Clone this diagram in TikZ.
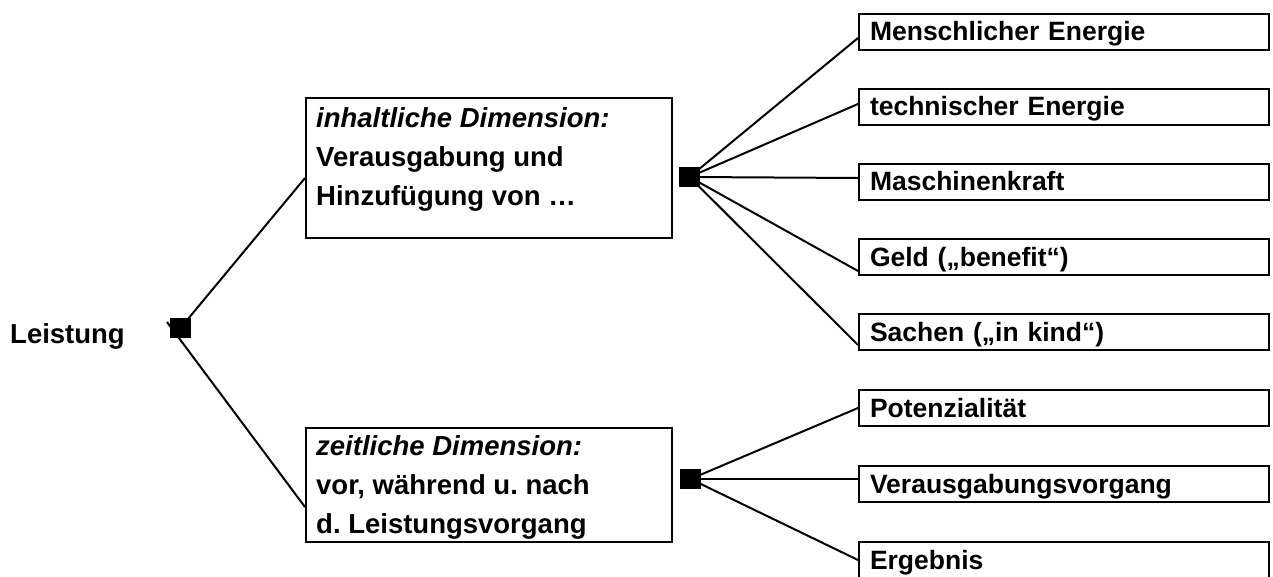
\documentclass[tikz,border=0pt]{standalone}
\usepackage{fontspec}
\setmainfont{Liberation Sans}
\frenchspacing
\begin{document}
\begin{tikzpicture}[x=1pt,y=-1pt,
  txt/.style={font=\bfseries\fontsize{26.5}{39}\selectfont},
  mtxt/.style={font=\bfseries\fontsize{27.5}{39}\selectfont,align=left,inner sep=0pt,anchor=base west},
  rbox/.style={txt,draw,line width=2pt,anchor=north west,minimum width=410pt,minimum height=36pt,
    text width=388pt,align=left,inner xsep=11pt,inner ysep=0pt,text height=21pt,text depth=3pt},
  mbox/.style={draw,line width=2pt,anchor=north west,minimum width=366pt,inner sep=0pt},
  knot/.style={fill=black,inner sep=0pt,minimum size=20pt},
  conn/.style={line width=2pt}]
\useasboundingbox (0,0) rectangle (1273,577);

% right boxes
\node[rbox] (r1) at (858,13) {Menschlicher Energie};
\node[rbox] (r2) at (858,88) {technischer Energie};
\node[rbox] (r3) at (858,163) {Maschinenkraft};
\node[rbox] (r4) at (858,238) {Geld (\char"201E benefit\char"201C)};
\node[rbox] (r5) at (858,313) {Sachen (\char"201E in kind\char"201C)};
\node[rbox] (r6) at (858,389) {Potenzialität};
\node[rbox] (r7) at (858,465) {Verausgabungsvorgang};
\node[rbox] (r8) at (858,541) {Ergebnis};

% middle boxes
\node[mbox,minimum height=140pt] (ma) at (305,97) {};
\node[mtxt] (mat) at (316,206) {\textit{inhaltliche Dimension:}\\Verausgabung und\\Hinzufügung von \dots};
\node[mbox,minimum height=114pt] (mb) at (305,427) {};
\node[mtxt] (mbt) at (316,533) {\textit{zeitliche Dimension:}\\vor, während u. nach\\d. Leistungsvorgang};

% knots
\node[knot] (ka) at (689.5,177) {};
\node[knot] (kb) at (690.5,479) {};
\node[knot] (k0) at (180.5,328) {};

% root label
\node[font=\bfseries\fontsize{27.5}{33}\selectfont,anchor=base west,inner sep=0pt] (root) at (10,343) {Leistung};

\coordinate (tick) at (167,322);

% connectors
\draw[conn] (k0.center) -- ([yshift=-10pt]ma.west);
\draw[conn] (tick) -- ([yshift=-22pt]mb.west);

\draw[conn] (ka.center) -- ([yshift=-6pt]r1.west);
\draw[conn] (ka.center) -- ([yshift=3pt]r2.west);
\draw[conn] (ka.center) -- ([yshift=4pt]r3.west);
\draw[conn] (ka.center) -- ([yshift=-14pt]r4.west);
\draw[conn] (ka.center) -- ([yshift=-13pt]r5.west);

\draw[conn] (kb.center) -- ([yshift=0pt]r6.west);
\draw[conn] (kb.center) -- ([yshift=5pt]r7.west);
\draw[conn] (kb.center) -- ([yshift=0pt]r8.west);

% redraw knots on top
\fill (ka.south west) rectangle (ka.north east);
\fill (kb.south west) rectangle (kb.north east);
\fill (k0.south west) rectangle (k0.north east);
\end{tikzpicture}
\end{document}
